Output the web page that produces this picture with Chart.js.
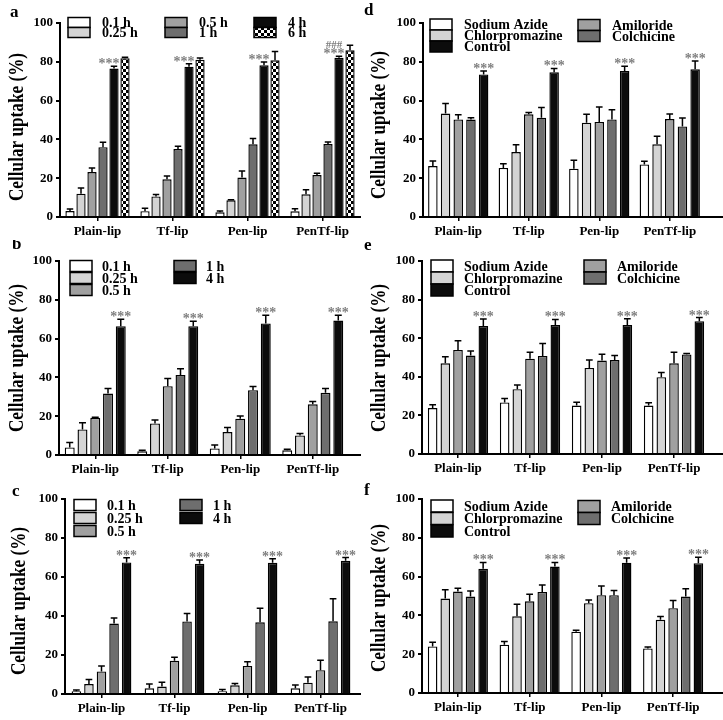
<!DOCTYPE html>
<html>
<head>
<meta charset="utf-8">
<script src="https://cdn.jsdelivr.net/npm/chart.js@4.4.0/dist/chart.umd.min.js"></script>
<style>
body { margin: 0; background: #fff; }
#wrap { position: relative; width: 723px; height: 720px; }
canvas { position: absolute; }
</style>
</head>
<body>
<div id="wrap">
  <canvas id="pa" width="361" height="240" style="left:0;top:0"></canvas>
  <canvas id="pd" width="361" height="240" style="left:362px;top:0"></canvas>
  <canvas id="pb" width="361" height="240" style="left:0;top:240px"></canvas>
  <canvas id="pe" width="361" height="240" style="left:362px;top:240px"></canvas>
  <canvas id="pc" width="361" height="240" style="left:0;top:480px"></canvas>
  <canvas id="pf" width="361" height="240" style="left:362px;top:480px"></canvas>
</div>
<script>
const groups = ['Plain-lip', 'Tf-lip', 'Pen-lip', 'PenTf-lip'];
const timeNames6 = ['0.1 h', '0.25 h', '0.5 h', '1 h', '4 h', '6 h'];
const timeNames5 = ['0.1 h', '0.25 h', '0.5 h', '1 h', '4 h'];
const inhibNames = ['Sodium Azide', 'Chlorpromazine', 'Amiloride', 'Colchicine', 'Control'];
const yMax = 100;
const yStep = 20;
const yTitle = 'Cellular uptake (%)';

// means[series][group], errs[series][group]
const aMean = [[3.1, 3.0, 2.4, 2.9], [12.0, 10.6, 8.6, 11.7], [23.2, 19.4, 20.3, 21.6],
               [36.0, 35.0, 37.5, 37.6], [76.5, 77.5, 78.2, 82.1], [81.8, 81.0, 80.8, 85.9]];
const aErr  = [[1.0, 1.5, 0.7, 1.4], [3.0, 1.0, 0.3, 2.4], [2.0, 1.7, 3.4, 1.0],
               [2.5, 1.5, 3.0, 1.0], [1.2, 1.5, 1.7, 0.7], [0.5, 1.0, 4.5, 2.6]];
const aHash = [false, false, false, true];

const bMean = [[3.9, 1.9, 3.4, 2.4], [13.2, 16.3, 11.8, 10.1], [19.2, 35.5, 18.7, 26.1],
               [31.7, 41.2, 33.4, 32.1], [66.4, 66.4, 67.8, 69.3]];
const bErr  = [[2.6, 0.5, 1.7, 0.5], [3.4, 1.7, 2.4, 1.0], [0.3, 3.9, 1.4, 1.5],
               [2.6, 3.2, 1.9, 2.2], [3.6, 2.6, 4.3, 2.7]];

const cMean = [[1.4, 2.9, 1.4, 2.9], [5.1, 3.8, 4.5, 5.8], [11.6, 17.1, 14.4, 12.2],
               [36.1, 37.2, 36.8, 37.3], [67.5, 66.8, 67.3, 68.3]];
const cErr  = [[0.7, 2.2, 0.9, 1.7], [2.4, 2.2, 0.9, 2.9], [2.7, 1.7, 2.1, 5.1],
               [2.9, 4.1, 7.2, 11.5], [2.4, 1.9, 2.1, 1.7]];

const dMean = [[26.3, 25.3, 24.9, 27.1], [53.3, 33.5, 48.6, 37.5], [50.3, 52.9, 49.0, 50.5],
               [50.2, 51.2, 50.3, 46.7], [73.5, 74.6, 75.3, 76.1]];
const dErr  = [[2.6, 2.2, 4.3, 1.7], [5.2, 3.8, 4.3, 4.1], [2.4, 1.0, 7.7, 2.6],
               [1.0, 5.2, 5.0, 4.3], [1.7, 2.0, 2.4, 4.3]];

const eMean = [[23.8, 26.7, 25.1, 25.1], [47.0, 33.6, 44.6, 39.8], [53.9, 49.4, 48.4, 47.0],
               [51.0, 50.8, 48.7, 51.6], [66.3, 66.8, 66.8, 68.8]];
const eErr  = [[1.7, 2.0, 1.7, 1.4], [3.4, 2.2, 4.1, 2.4], [4.8, 3.3, 3.3, 5.7],
               [2.4, 6.5, 2.4, 0.5], [3.6, 2.9, 3.3, 1.9]];

const fMean = [[24.0, 24.9, 31.6, 23.0], [48.7, 39.5, 46.3, 37.7], [52.3, 47.3, 50.4, 43.7],
               [49.7, 52.1, 50.4, 49.7], [64.0, 65.2, 67.2, 66.9]];
const fErr  = [[2.1, 1.7, 0.7, 0.7], [4.5, 6.3, 1.7, 1.7], [1.7, 3.6, 4.8, 4.0],
               [2.9, 3.6, 2.4, 4.1], [3.3, 2.1, 2.4, 3.1]];

const FONT = '"Liberation Serif", "Times New Roman", serif';

// checkered fill for the 6 h bars
const pc = document.createElement('canvas');
pc.width = 6; pc.height = 6;
const g = pc.getContext('2d');
g.fillStyle = '#fff'; g.fillRect(0, 0, 6, 6);
g.fillStyle = '#000'; g.fillRect(0, 0, 3, 3); g.fillRect(3, 3, 3, 3);
const checker = g.createPattern(pc, 'repeat');

const fills = ['#ffffff', '#d4d4d4', '#a0a0a0', '#6e6e6e', '#0c0c0c', checker];

const panels = [
  { id: 'pa', letter: 'a', lx: 10, ly: 17, names: timeNames6, means: aMean, errs: aErr, hash: aHash,
    left: 60, top: 23, bottom: 217, right: 360, cat: 0.88, bar: 0.84, titleY: 127, starDx: -5,
    bh: 10, tdx: 34, legend: [[0, 68, 22.5], [1, 68, 32.5], [2, 165, 22.5], [3, 165, 32.5], [4, 254, 22.5], [5, 254, 32.5]] },
  { id: 'pb', letter: 'b', lx: 12, ly: 9, names: timeNames5, means: bMean, errs: bErr,
    left: 59, top: 21, bottom: 215, right: 349, cat: 0.88, bar: 0.78, titleY: 118, starDx: 0,
    bh: 11, tdx: 32, legend: [[0, 70, 26], [1, 70, 38], [2, 70, 50], [3, 174, 26], [4, 174, 38]] },
  { id: 'pc', letter: 'c', lx: 12, ly: 16, names: timeNames5, means: cMean, errs: cErr,
    left: 65, top: 19, bottom: 214, right: 357, cat: 0.86, bar: 0.76, titleY: 121, starDx: 0,
    bh: 11, tdx: 33, legend: [[0, 74, 25], [1, 74, 38], [2, 74, 51], [3, 180, 25], [4, 180, 38]] },
  { id: 'pd', letter: 'd', lx: 2, ly: 15, names: inhibNames, means: dMean, errs: dErr,
    left: 61, top: 23, bottom: 217, right: 343, cat: 0.9, bar: 0.75, titleY: 125, starDx: 0,
    bh: 11, tdx: 34, legend: [[0, 68, 24.5], [1, 68, 35.5], [4, 68, 46.5], [2, 216, 25], [3, 216, 36]] },
  { id: 'pe', letter: 'e', lx: 2, ly: 10, names: inhibNames, means: eMean, errs: eErr,
    left: 60, top: 21, bottom: 214, right: 348, cat: 0.88, bar: 0.76, titleY: 118, starDx: 0,
    bh: 12, tdx: 33, legend: [[0, 69, 26], [1, 69, 38], [4, 69, 50], [2, 222, 26], [3, 222, 38]] },
  { id: 'pf', letter: 'f', lx: 2, ly: 15, names: inhibNames, means: fMean, errs: fErr,
    left: 60, top: 19, bottom: 213, right: 347, cat: 0.88, bar: 0.76, titleY: 118, starDx: 0,
    bh: 12, tdx: 33, legend: [[0, 69, 26], [1, 69, 38.5], [4, 69, 51], [2, 216, 26.5], [3, 216, 38.5]] }
];

function makePanel(p) {
  const W = 361, H = 240;
  const datasets = p.means.map((m, i) => ({
    label: p.names[i],
    data: m,
    backgroundColor: fills[i],
    borderColor: '#000',
    borderWidth: 1.4
  }));

  const extras = {
    id: 'extras',
    afterDatasetsDraw(chart) {
      const ctx = chart.ctx, ys = chart.scales.y, area = chart.chartArea;
      ctx.save();
      ctx.strokeStyle = '#000';
      ctx.lineWidth = 2;
      ctx.beginPath();
      ctx.moveTo(area.right, area.bottom);
      ctx.lineTo(W, area.bottom);
      ctx.stroke();

      ctx.lineWidth = 1.5;
      p.means.forEach((m, i) => {
        chart.getDatasetMeta(i).data.forEach((bar, j) => {
          const top = ys.getPixelForValue(m[j] + p.errs[i][j]);
          const cap = bar.width * 0.35;
          ctx.beginPath();
          ctx.moveTo(bar.x, bar.y);
          ctx.lineTo(bar.x, top);
          ctx.moveTo(bar.x - cap, top);
          ctx.lineTo(bar.x + cap, top);
          ctx.stroke();
        });
      });

      // significance marks on the 4 h / Control bars
      const si = 4;
      ctx.fillStyle = '#7e7e7e';
      ctx.textAlign = 'center';
      ctx.textBaseline = 'alphabetic';
      chart.getDatasetMeta(si).data.forEach((bar, j) => {
        const top = ys.getPixelForValue(p.means[si][j] + p.errs[si][j]);
        ctx.font = 'bold 14px ' + FONT;
        ctx.fillText('***', bar.x + p.starDx, top + 2);
        if (p.hash && p.hash[j]) {
          ctx.font = 'bold 11px ' + FONT;
          ctx.fillText('###', bar.x + p.starDx, top - 8);
        }
      });
      ctx.restore();
    },
    afterDraw(chart) {
      const ctx = chart.ctx;
      ctx.save();
      // legend
      ctx.font = 'bold 14px ' + FONT;
      ctx.textAlign = 'left';
      ctx.textBaseline = 'middle';
      ctx.lineWidth = 1.5;
      ctx.strokeStyle = '#000';
      p.legend.forEach(([i, x, yc]) => {
        ctx.fillStyle = fills[i];
        ctx.fillRect(x, yc - p.bh / 2, 22, p.bh);
        ctx.strokeRect(x, yc - p.bh / 2, 22, p.bh);
        ctx.fillStyle = '#000';
        ctx.fillText(p.names[i], x + p.tdx, yc + 1);
      });
      // axis title
      ctx.save();
      ctx.translate(p.id === 'pc' ? 20 : 18, p.titleY);
      ctx.rotate(-Math.PI / 2);
      ctx.scale(0.86, 1);
      ctx.font = 'bold 20px ' + FONT;
      ctx.textAlign = 'center';
      ctx.textBaseline = 'middle';
      ctx.fillStyle = '#000';
      ctx.fillText(yTitle, 0, 0);
      ctx.restore();
      // panel letter
      ctx.font = 'bold 17px ' + FONT;
      ctx.textAlign = 'left';
      ctx.textBaseline = 'alphabetic';
      ctx.fillStyle = '#000';
      ctx.fillText(p.letter, p.lx, p.ly);
      ctx.restore();
    }
  };

  return new Chart(document.getElementById(p.id), {
    type: 'bar',
    data: { labels: groups, datasets: datasets },
    options: {
      responsive: false,
      animation: false,
      devicePixelRatio: 1,
      datasets: { bar: { categoryPercentage: p.cat, barPercentage: p.bar } },
      layout: { padding: { top: p.top, right: W - p.right, left: 0, bottom: 0 } },
      plugins: { legend: { display: false }, tooltip: { enabled: false }, title: { display: false } },
      scales: {
        x: {
          afterFit: (s) => { s.height = H - p.bottom; },
          grid: { offset: false, drawOnChartArea: false, drawTicks: true, tickLength: 4, color: '#000', lineWidth: 1.5 },
          border: { display: true, color: '#000', width: 2 },
          ticks: { color: '#000', padding: 3, font: { family: FONT, size: 13, weight: 'bold' } }
        },
        y: {
          min: 0,
          max: yMax,
          afterFit: (s) => { s.width = p.left; },
          grid: { drawOnChartArea: false, drawTicks: true, tickLength: 4, color: '#000', lineWidth: 2 },
          border: { display: true, color: '#000', width: 2 },
          ticks: { stepSize: yStep, color: '#000', padding: 3, font: { family: FONT, size: 13, weight: 'bold' } }
        }
      }
    },
    plugins: [extras]
  });
}

panels.forEach(makePanel);
</script>
</body>
</html>
